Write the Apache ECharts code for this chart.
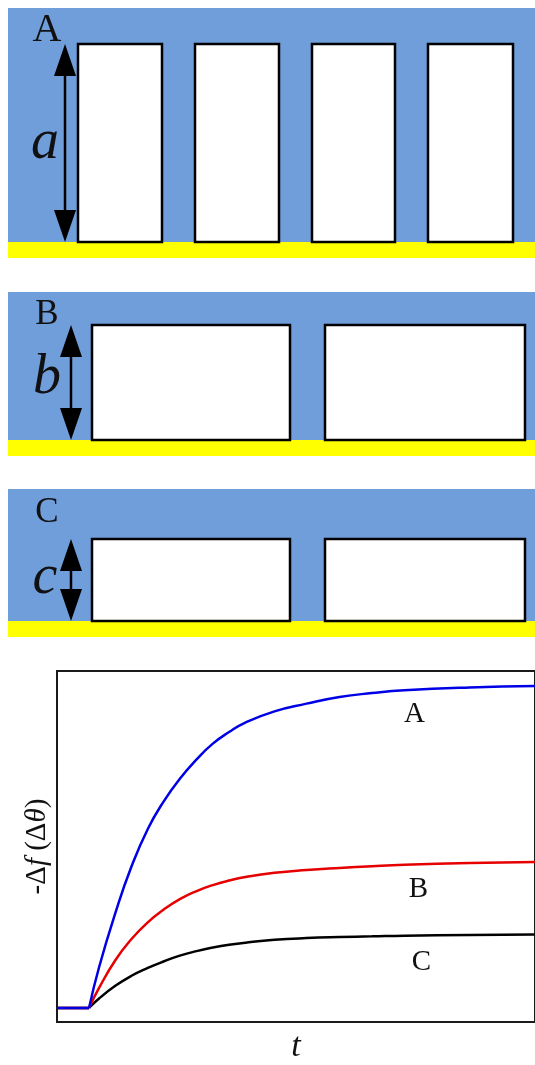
<!DOCTYPE html>
<html>
<head>
<meta charset="utf-8">
<script src="https://cdn.jsdelivr.net/npm/echarts@6/dist/echarts.min.js"></script>
<style>
  html, body { margin: 0; padding: 0; background: #fff; }
  #chart { width: 535px; height: 1065px; }
</style>
</head>
<body>
<div id="chart"></div>
<script>
// ---- Schematic panels: pillar arrays on a substrate (units along the strip) ----
// each pillar: [left edge, right edge, height]
const pillarsA = [[70, 154, 198], [187, 271, 198], [304, 387, 198], [420, 505, 198]];
const pillarsB = [[84, 282, 115], [317, 517, 115]];
const pillarsC = [[84, 282, 82], [317, 517, 82]];
// dimension arrows: [position along strip, pillar height]
const arrowA = [[57, 198]];
const arrowB = [[63, 115]];
const arrowC = [[63, 82]];
// substrate layer: [left, right, thickness]
const substrate = [[0, 527, 16]];
const panelTops = [234, 148, 132];

// ---- Response curves: -Δf (Δθ) versus t ----
const tValues = [0, 6.7, 8.8, 12.2, 15.5, 19.0, 22.4, 25.7, 29.2, 32.6, 36.0, 39.4, 45.5, 52.2, 59.1, 65.9, 72.7, 86.3, 100];
const curveA = [4.0, 4.0, 15.6, 31.0, 44.0, 55.0, 63.0, 69.3, 74.8, 79.3, 82.6, 85.3, 88.5, 90.7, 92.6, 93.7, 94.5, 95.3, 95.7];
const curveB = [4.0, 4.0, 9.7, 17.6, 23.5, 28.4, 32.1, 35.0, 37.3, 39.0, 40.3, 41.3, 42.5, 43.3, 43.9, 44.4, 44.8, 45.3, 45.6];
const curveC = [4.0, 4.0, 6.7, 10.3, 13.1, 15.4, 17.3, 18.9, 20.2, 21.2, 22.0, 22.6, 23.4, 23.9, 24.2, 24.4, 24.6, 24.8, 24.9];
const curveNames = ['A', 'B', 'C'];
const onsetIndex = 1;   // last point of the flat baseline, where the rise begins
const labelIndex = 16;

const BLUE_BG = '#709edb';
const YELLOW = '#ffff00';
const SERIF = '"Liberation Serif", "Times New Roman", serif';

const chart = echarts.init(document.getElementById('chart'), null, { renderer: 'canvas' });

function pillarItem(params, api) {
  const tl = api.coord([api.value(0), api.value(2)]);
  const br = api.coord([api.value(1), 0]);
  return {
    type: 'rect',
    shape: { x: tl[0], y: tl[1], width: br[0] - tl[0], height: br[1] - tl[1] },
    style: { fill: '#ffffff', stroke: '#000000', lineWidth: 2.5 }
  };
}

function substrateItem(params, api) {
  const tl = api.coord([api.value(0), 0]);
  const br = api.coord([api.value(1), -api.value(2)]);
  return {
    type: 'rect',
    shape: { x: tl[0], y: tl[1], width: br[0] - tl[0], height: br[1] - tl[1] },
    style: { fill: YELLOW }
  };
}

function arrowItem(params, api) {
  const top = api.coord([api.value(0), api.value(1)]);
  const bot = api.coord([api.value(0), 0]);
  const hl = 32, hw = 11;
  const x = top[0];
  return {
    type: 'group',
    children: [
      { type: 'line', shape: { x1: x, y1: top[1] + hl - 2, x2: x, y2: bot[1] - hl + 2 },
        style: { stroke: '#000', lineWidth: 2.5 } },
      { type: 'polygon', shape: { points: [[x, top[1]], [x - hw, top[1] + hl], [x + hw, top[1] + hl]] },
        style: { fill: '#000' } },
      { type: 'polygon', shape: { points: [[x, bot[1]], [x - hw, bot[1] - hl], [x + hw, bot[1] - hl]] },
        style: { fill: '#000' } }
    ]
  };
}

const panelGrids = [
  { left: 8, top: 8, width: 527, height: 250 },
  { left: 8, top: 292, width: 527, height: 164 },
  { left: 8, top: 489, width: 527, height: 148 }
].map(g => Object.assign(g, { show: true, backgroundColor: BLUE_BG, borderWidth: 0 }));

const chartGrid = { left: 57, top: 671, width: 490, height: 353, show: true,
  backgroundColor: '#ffffff', borderColor: '#1a1a1a', borderWidth: 2 };

const hiddenAxis = (min, max, idx) => ({ type: 'value', gridIndex: idx, min, max, show: false });

const xAxes = [0, 1, 2].map(i => hiddenAxis(0, 527, i));
const yAxes = [0, 1, 2].map(i => hiddenAxis(-16, panelTops[i], i));

xAxes.push({
  type: 'value', gridIndex: 3, min: 0, max: 100,
  axisLine: { show: false }, axisTick: { show: false }, axisLabel: { show: false }, splitLine: { show: false },
  name: 't', nameLocation: 'middle', nameGap: 8,
  nameTextStyle: { fontFamily: SERIF, fontStyle: 'italic', fontSize: 34, color: '#111' }
});
yAxes.push({
  type: 'value', gridIndex: 3, min: 0, max: 100,
  axisLine: { show: false }, axisTick: { show: false }, axisLabel: { show: false }, splitLine: { show: false },
  name: '-Δ{i|f} (Δ{i|θ})', nameLocation: 'middle', nameGap: 5,
  nameTextStyle: {
    fontFamily: SERIF, fontSize: 29, color: '#111',
    rich: { i: { fontFamily: SERIF, fontStyle: 'italic', fontSize: 29, color: '#111' } }
  }
});

const series = [];
[[pillarsA, arrowA], [pillarsB, arrowB], [pillarsC, arrowC]].forEach(([pillars, arrow], i) => {
  series.push({ type: 'custom', xAxisIndex: i, yAxisIndex: i, renderItem: substrateItem, data: substrate, silent: true });
  series.push({ type: 'custom', xAxisIndex: i, yAxisIndex: i, renderItem: pillarItem, data: pillars, silent: true });
  series.push({ type: 'custom', xAxisIndex: i, yAxisIndex: i, renderItem: arrowItem, data: arrow, silent: true });
});

const curveColors = ['#0000e6', '#e60000', '#000000'];
const curves = [curveA, curveB, curveC];
const labelOffsets = [[10, 0], [14, 0], [17, 2]];
// draw C first so A (blue) ends up on top along the shared baseline
[2, 1, 0].forEach(k => {
  const pts = tValues.map((t, j) => [t, curves[k][j]]);
  // flat baseline before the onset: straight segment
  series.push({
    type: 'line', xAxisIndex: 3, yAxisIndex: 3, smooth: false, symbol: 'none',
    lineStyle: { color: curveColors[k], width: 2.5 },
    data: pts.slice(0, onsetIndex + 1), silent: true
  });
  // rising part: smooth curve through the read points
  series.push({
    type: 'line', xAxisIndex: 3, yAxisIndex: 3, name: curveNames[k],
    smooth: 0.5,
    symbol: 'circle', symbolSize: 0, showSymbol: true,
    lineStyle: { color: curveColors[k], width: 2.5 },
    itemStyle: { color: curveColors[k] },
    data: pts.slice(onsetIndex).map((p, j) => {
      const item = { value: p };
      if (j + onsetIndex === labelIndex) {
        item.label = { show: true, position: 'bottom', distance: 10, offset: labelOffsets[k],
          formatter: curveNames[k], fontFamily: SERIF, fontSize: 29, color: '#111' };
      }
      return item;
    }),
    silent: true
  });
});

chart.setOption({
  animation: false,
  grid: panelGrids.concat([chartGrid]),
  xAxis: xAxes,
  yAxis: yAxes,
  series: series,
  graphic: [
    { type: 'text', style: { x: 47, y: 30, text: 'A', font: '40px ' + SERIF, fill: '#111', textAlign: 'center', textVerticalAlign: 'middle' } },
    { type: 'text', style: { x: 47, y: 315, text: 'B', font: '35px ' + SERIF, fill: '#111', textAlign: 'center', textVerticalAlign: 'middle' } },
    { type: 'text', style: { x: 47, y: 513, text: 'C', font: '35px ' + SERIF, fill: '#111', textAlign: 'center', textVerticalAlign: 'middle' } },
    { type: 'text', style: { x: 45, y: 143, text: 'a', font: 'italic 56px ' + SERIF, fill: '#111', textAlign: 'center', textVerticalAlign: 'middle' } },
    { type: 'text', style: { x: 47, y: 378, text: 'b', font: 'italic 56px ' + SERIF, fill: '#111', textAlign: 'center', textVerticalAlign: 'middle' } },
    { type: 'text', style: { x: 45, y: 578, text: 'c', font: 'italic 56px ' + SERIF, fill: '#111', textAlign: 'center', textVerticalAlign: 'middle' } }
  ]
});
</script>
</body>
</html>
